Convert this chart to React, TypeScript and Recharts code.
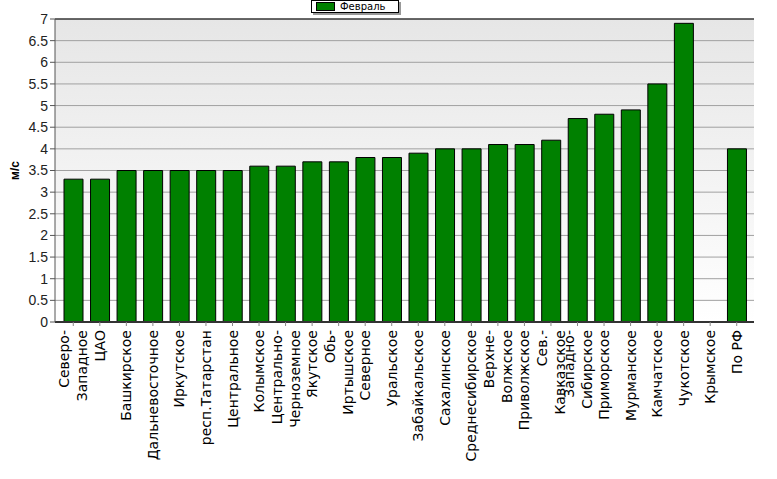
import React from 'react'
import {
  BarChart,
  Bar,
  XAxis,
  YAxis,
  CartesianGrid,
  Legend,
  ReferenceLine,
} from 'recharts'

// регионы (с переносами как на исходнике)
const regions = [
  'Северо-\nЗападное',
  'ЦАО',
  'Башкирское',
  'Дальневосточное',
  'Иркутское',
  'респ.Татарстан',
  'Центральное',
  'Колымское',
  'Центрально-\nЧерноземное',
  'Якутское',
  'Обь-\nИртышское',
  'Северное',
  'Уральское',
  'Забайкальское',
  'Сахалинское',
  'Среднесибирское',
  'Верхне-\nВолжское',
  'Приволжское',
  'Сев.-\nКавказское',
  'Западно-\nСибирское',
  'Приморское',
  'Мурманское',
  'Камчатское',
  'Чукотское',
  'Крымское',
  'По РФ',
]

const february = [
  3.3, 3.3, 3.5, 3.5, 3.5, 3.5, 3.5, 3.6, 3.6, 3.7, 3.7, 3.8, 3.8, 3.9, 4.0, 4.0,
  4.1, 4.1, 4.2, 4.7, 4.8, 4.9, 5.5, 6.9, null, 4.0,
]

const yTicks = [0, 0.5, 1, 1.5, 2, 2.5, 3, 3.5, 4, 4.5, 5, 5.5, 6, 6.5, 7]

const seriesName = 'Февраль'

const data = regions.map((name, i) => ({ name, value: february[i] }))

const FONT = '"Liberation Sans", Arial, sans-serif'
const WIDE = '"DejaVu Sans", Verdana, sans-serif'

const XTick = ({ x, payload }: any) => {
  const lines = String(payload.value).split('\n')
  const lh = 18
  return (
    <g transform={`translate(${x},330)`}>
      <text
        transform="rotate(-90)"
        textAnchor="end"
        fontSize={14}
        fontFamily={WIDE}
        fill="#000"
      >
        {lines.map((l, i) => (
          <tspan key={i} x={0} y={(i - (lines.length - 1) / 2) * lh} dy="0.36em">
            {l}
          </tspan>
        ))}
      </text>
    </g>
  )
}

const LegendBox = () => (
  <div
    style={{
      display: 'flex',
      alignItems: 'center',
      border: '1px solid #000',
      background: '#fff',
      boxShadow: '2px 2px 0 #999',
      height: 13,
      width: 88,
      boxSizing: 'border-box',
      padding: '0 4px',
      fontFamily: WIDE,
      fontSize: 10,
    }}
  >
    <span
      style={{
        display: 'inline-block',
        width: 17,
        height: 7,
        background: '#008000',
        border: '1px solid #000',
        marginRight: 5,
      }}
    />
    {seriesName}
  </div>
)

export default function App() {
  return (
    <div style={{ position: 'absolute', left: 0, top: 0, width: 777, height: 479, background: '#fff' }}>
      <BarChart
        width={777}
        height={479}
        data={data}
        margin={{ top: 19, right: 23, left: 0, bottom: 0 }}
        barSize={19}
      >
        <defs>
          <linearGradient id="bg" x1="0" y1="0" x2="0" y2="1">
            <stop offset="0%" stopColor="#e6e6e6" />
            <stop offset="100%" stopColor="#ffffff" />
          </linearGradient>
        </defs>
        <CartesianGrid
          vertical={false}
          stroke="#a0a0a0"
          strokeWidth={1}
          fill="url(#bg)"
          fillOpacity={1}
        />
        <XAxis
          dataKey="name"
          interval={0}
          height={157}
          padding={{ left: 5, right: 4 }}
          tick={<XTick />}
          tickSize={4}
          tickLine={{ stroke: '#888' }}
          axisLine={{ stroke: '#333', strokeWidth: 2 }}
        />
        <YAxis
          width={55}
          domain={[0, 7]}
          ticks={yTicks}
          interval={0}
          tickSize={5}
          tickLine={{ stroke: '#555' }}
          axisLine={{ stroke: '#555' }}
          tick={{ fontSize: 14, fontFamily: FONT, fill: '#222' }}
          label={{
            value: 'м/с',
            angle: -90,
            position: 'insideLeft',
            offset: 15,
            style: { fontSize: 12, fontWeight: 'bold', fontFamily: FONT, fill: '#000', textAnchor: 'middle' },
          }}
        />
        <YAxis
          yAxisId="r"
          orientation="right"
          width={0}
          tick={false}
          tickLine={false}
          axisLine={{ stroke: '#000' }}
        />
        <ReferenceLine y={7} stroke="#000" />
        <Legend
          layout="horizontal"
          verticalAlign="middle"
          content={<LegendBox />}
          wrapperStyle={{ position: 'absolute', top: 0, left: 311, width: 'auto' }}
        />
        <Bar
          dataKey="value"
          name={seriesName}
          fill="#008000"
          stroke="#000"
          strokeWidth={1}
          isAnimationActive={false}
        />
      </BarChart>
    </div>
  )
}
